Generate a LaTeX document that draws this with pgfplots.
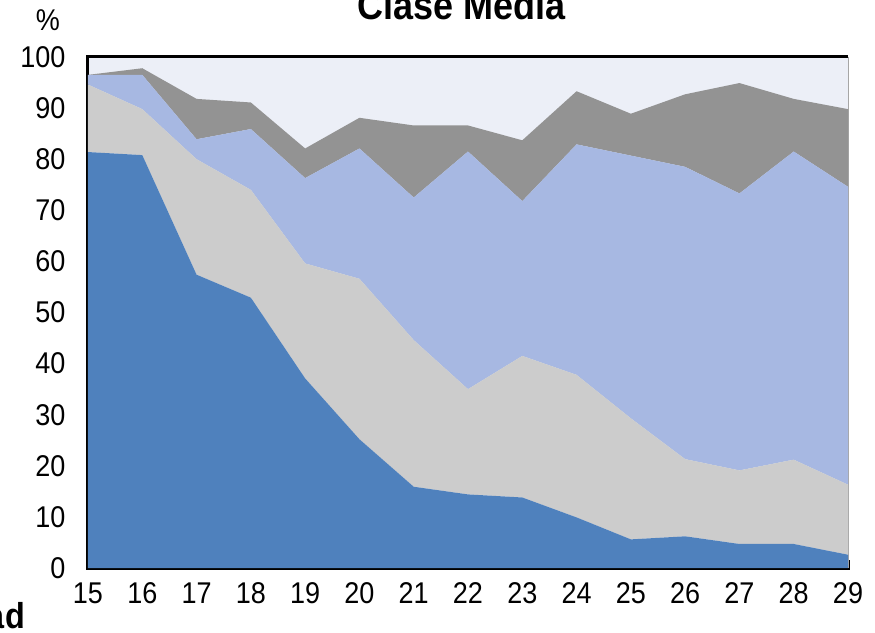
\documentclass[border=0pt]{standalone}
\usepackage{fontspec}
\setmainfont{Liberation Sans}[FakeStretch=0.9]
\usepackage{pgfplots}
\usepackage{pgfplotstable}
\pgfplotsset{compat=1.18}

\definecolor{sBlue}{HTML}{4F81BD}
\definecolor{sGray}{HTML}{CCCCCC}
\definecolor{sLight}{HTML}{A7B8E2}
\definecolor{sDark}{HTML}{939393}
\definecolor{sBack}{HTML}{ECEFF7}

% shares by age (increments, stacked)
\pgfplotstableread{
x   a     b     c     d
15  81.4  13.2  1.9   0.0
16  80.8  9.0   6.7   1.3
17  57.4  22.6  3.9   7.9
18  52.9  21.1  11.9  5.2
19  37.1  22.5  16.7  5.8
20  25.2  31.4  25.5  6.0
21  15.9  28.7  27.9  14.1
22  14.4  20.6  46.5  5.1
23  13.8  27.7  30.3  11.9
24  9.9   27.9  45.1  10.4
25  5.6   23.7  51.4  8.2
26  6.2   15.1  57.2  14.2
27  4.7   14.4  54.2  21.6
28  4.7   16.5  60.3  10.3
29  2.6   13.7  58.3  15.2
}\shares

\begin{document}
\begin{tikzpicture}
\useasboundingbox (-88bp,-65bp) rectangle (787bp,568bp);
\clip (-88bp,-65bp) rectangle (787bp,568bp);
\begin{axis}[
  at={(0,0)}, anchor=south west,
  scale only axis, width=760bp, height=511bp,
  xmin=15, xmax=29, ymin=0, ymax=100,
  xtick={15,...,29}, ytick={0,10,...,100},
  tick pos=left, tick align=inside,
  major tick length=8bp,
  tick style={line width=3bp, black},
  axis line style={draw=none},
  axis background/.style={fill=sBack},
  ticklabel style={font=\fontsize{30bp}{32bp}\selectfont},
  /pgf/number format/assume math mode=true,
  yticklabel style={xshift=-19bp},
  xticklabel style={yshift=-11bp},
  stack plots=y,
  clip=false,
]
\addplot[fill=sBlue, draw=none] table[x=x, y=a] {\shares} \closedcycle;
\addplot[fill=sGray, draw=none] table[x=x, y=b] {\shares} \closedcycle;
\addplot[fill=sLight, draw=none] table[x=x, y=c] {\shares} \closedcycle;
\addplot[fill=sDark, draw=none] table[x=x, y=d] {\shares} \closedcycle;
\draw[black!35, line width=1bp] (rel axis cs:1,0) -- (rel axis cs:1,1);
\draw[black, line width=3bp] (rel axis cs:0,1) -- (rel axis cs:1,1);
\draw[black, line width=3bp, line cap=rect] (rel axis cs:0,1) -- (rel axis cs:0,0) -- (rel axis cs:1,0);
\end{axis}
\node[anchor=base, font=\fontsize{40bp}{42bp}\selectfont\bfseries] at (374bp,548bp) {Clase Media};
\node[font=\fontsize{30bp}{32bp}\selectfont] at (-40bp,548bp) {\%};
\node[anchor=base east, inner sep=0pt, font=\fontsize{36bp}{38bp}\selectfont\bfseries] at (-63bp,-60bp) {Edad};
\end{tikzpicture}
\end{document}
